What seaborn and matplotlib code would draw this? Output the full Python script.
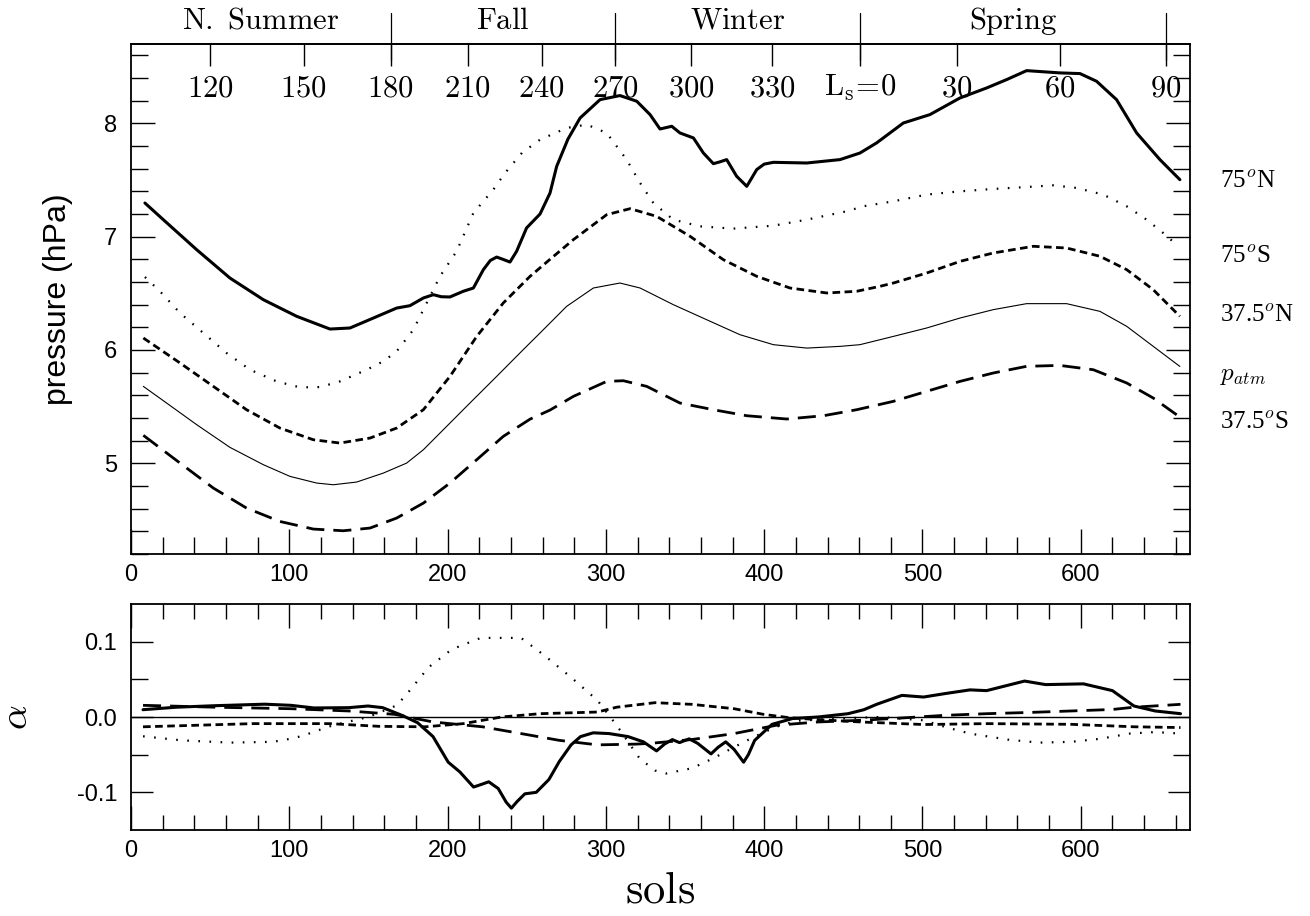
import numpy as np
import pandas as pd
import matplotlib
matplotlib.use("Agg")
import matplotlib.pyplot as plt
import matplotlib.transforms as mtransforms
import seaborn as sns

# ---------------- data ----------------
# top panel: surface pressure (hPa) vs sols
n75_sol = [8.8, 20.4, 41.5, 62.5, 83.6, 104.7, 125.7, 138.3, 153.1, 167.8, 176.2, 184.7, 191, 196, 201.5,
           209.9, 216.3, 222.6, 227, 231, 235, 239.4, 243.6, 249.9, 258.4, 264.7, 268.9, 276, 283.7, 296.3,
           308.9, 319.5, 327.9, 334.2, 341.6, 346.8, 355.3, 361.6, 367.9, 372, 376.3, 382.6, 389, 395.3,
           400, 405.8, 426.9, 447.9, 460.5, 471, 487.9, 504.7, 523.7, 540.5, 553.2, 565.8, 586.8, 599.5,
           610, 622.6, 635.3, 650, 662.6]
n75_p = [7.297, 7.15, 6.885, 6.635, 6.444, 6.297, 6.185, 6.194, 6.282, 6.37, 6.391, 6.459, 6.488, 6.47,
         6.468, 6.518, 6.547, 6.709, 6.79, 6.82, 6.80, 6.776, 6.871, 7.077, 7.20, 7.385, 7.62, 7.86, 8.047,
         8.209, 8.245, 8.195, 8.077, 7.95, 7.974, 7.915, 7.871, 7.738, 7.644, 7.66, 7.68, 7.533, 7.444,
         7.592, 7.64, 7.656, 7.65, 7.68, 7.738, 7.827, 8.003, 8.077, 8.224, 8.312, 8.386, 8.465, 8.445,
         8.439, 8.371, 8.209, 7.915, 7.68, 7.503]

s75_sol = [8.8, 18.3, 31, 45.7, 60.4, 75.2, 92, 106.8, 119.4, 132, 148.9, 159.4, 167.8, 178.4, 186.8,
           195.2, 205.7, 216.3, 228.9, 236.3, 247, 258.4, 275.2, 287.9, 300.5, 313.1, 321.6, 330, 342.6,
           359.5, 380.5, 405.8, 426.9, 452.1, 462.6, 481.6, 502.6, 523.7, 544.7, 565.8, 582.6, 597.4,
           614.2, 629, 641.6, 652.1, 660.5]
s75_p = [6.644, 6.518, 6.326, 6.15, 5.973, 5.826, 5.723, 5.67, 5.673, 5.723, 5.826, 5.90, 5.988, 6.179,
         6.415, 6.65, 6.871, 7.209, 7.415, 7.562, 7.74, 7.856, 7.959, 7.989, 7.915, 7.68, 7.474, 7.297,
         7.15, 7.091, 7.071, 7.097, 7.15, 7.224, 7.268, 7.312, 7.371, 7.40, 7.421, 7.438, 7.453, 7.43,
         7.371, 7.268, 7.15, 7.032, 6.929]

n37_sol = [7.8, 31, 52, 73, 94.1, 115.2, 132, 151, 167.8, 184.7, 201.5, 218.4, 235.2, 252.1, 264.7,
           279.5, 300.5, 315.3, 332.1, 353.2, 374.2, 395.3, 416.3, 439.5, 458.4, 473.2, 481.6, 502.6,
           523.7, 544.7, 570, 591, 612.1, 629, 645.8, 662.6]
n37_p = [6.106, 5.885, 5.679, 5.473, 5.311, 5.208, 5.179, 5.223, 5.311, 5.473, 5.767, 6.12, 6.415, 6.65,
         6.80, 6.974, 7.194, 7.247, 7.179, 7.003, 6.797, 6.65, 6.547, 6.503, 6.518, 6.562, 6.591, 6.679,
         6.782, 6.856, 6.915, 6.90, 6.827, 6.709, 6.532, 6.297]

patm_sol = [7.8, 20.4, 41.5, 62.5, 83.6, 100.4, 117.3, 127.8, 142.6, 159.4, 174.1, 184.7, 199.4, 214.1,
            231, 247.8, 258.4, 275.2, 292.1, 308.9, 321.6, 342.6, 363.7, 384.7, 405.8, 426.9, 447.9,
            460.5, 481.6, 502.6, 523.7, 544.7, 565.8, 591, 612.1, 629, 645.8, 662.6]
patm_p = [5.679, 5.553, 5.341, 5.141, 4.988, 4.885, 4.826, 4.811, 4.835, 4.914, 5.002, 5.12, 5.326, 5.532,
          5.767, 6.003, 6.15, 6.385, 6.547, 6.591, 6.547, 6.40, 6.267, 6.135, 6.047, 6.017, 6.032, 6.047,
          6.12, 6.194, 6.282, 6.356, 6.409, 6.409, 6.341, 6.209, 6.032, 5.855]

s37_sol = [7.8, 31, 52, 73, 94.1, 115.2, 134.1, 151, 167.8, 184.7, 201.5, 218.4, 235.2, 252.1, 264.7,
           279.5, 300.5, 311, 325.8, 346.8, 367.9, 389, 414.2, 437.4, 458.4, 481.6, 502.6, 523.7, 544.7,
           565.8, 586.8, 607.9, 629, 645.8, 662.6]
s37_p = [5.247, 5.002, 4.782, 4.605, 4.487, 4.42, 4.405, 4.429, 4.517, 4.649, 4.826, 5.032, 5.238, 5.39,
         5.47, 5.591, 5.723, 5.729, 5.679, 5.532, 5.473, 5.42, 5.391, 5.42, 5.473, 5.547, 5.635, 5.723,
         5.797, 5.856, 5.864, 5.826, 5.709, 5.576, 5.408]

# bottom panel: alpha vs sols
a_n75_sol = [7.6, 28.7, 53, 84.4, 101, 115.6, 137.6, 149.7, 159, 171.4, 181, 190.8, 200.4, 207.8, 216.4,
             222, 226, 232, 237, 240.3, 244, 248.8, 256, 264, 270.6, 278, 284, 292, 302, 314, 323.7, 332,
             337, 342, 346.5, 352.6, 358, 366.4, 371, 375.7, 381, 387, 390, 394, 405, 418, 434, 453, 463,
             471, 487, 500.7, 514, 530, 540.5, 564.5, 577.8, 601.7, 620, 633.6, 647, 663]
a_n75 = [0.0097, 0.013, 0.015, 0.017, 0.0155, 0.012, 0.0124, 0.0146, 0.0124, 0.002, -0.0075, -0.026,
         -0.060, -0.073, -0.093, -0.089, -0.086, -0.095, -0.113, -0.121, -0.112, -0.102, -0.100, -0.083,
         -0.059, -0.037, -0.026, -0.021, -0.022, -0.026, -0.033, -0.045, -0.036, -0.030, -0.034, -0.029,
         -0.035, -0.049, -0.040, -0.033, -0.043, -0.060, -0.050, -0.031, -0.0097, -0.002, 0.0, 0.0044,
         0.0097, 0.0168, 0.0287, 0.0265, 0.031, 0.036, 0.035, 0.0477, 0.043, 0.044, 0.035, 0.0146, 0.008,
         0.0044]

a_s75_sol = [7.6, 32, 62.5, 89, 96, 108.6, 115, 127.6, 150, 168, 176, 188, 202.8, 221, 246.4, 261, 277.8,
             294.7, 306.8, 321.3, 331, 338, 354.4, 367.7, 381, 394, 407.5, 420.7, 447, 473.8, 500.7, 514,
             530, 553.8, 573.6, 593.8, 612, 631, 647, 663]
a_s75 = [-0.0256, -0.031, -0.034, -0.033, -0.031, -0.025, -0.020, -0.011, 0.0, 0.0155, 0.035, 0.066,
         0.090, 0.105, 0.105, 0.082, 0.053, 0.022, -0.011, -0.055, -0.071, -0.075, -0.068, -0.055, -0.040,
         -0.026, -0.013, -0.005, -0.002, 0.0, -0.0044, -0.013, -0.022, -0.030, -0.034, -0.033, -0.029,
         -0.022, -0.020, -0.022]

a_n37_sol = [7.6, 41, 77, 125.5, 156.7, 185.7, 210, 234, 258.4, 294.7, 306.8, 331, 354.4, 381, 399.6,
             415.7, 434, 460.8, 500.7, 540.5, 593.8, 633.6, 663]
a_n37 = [-0.013, -0.011, -0.0088, -0.0088, -0.0124, -0.013, -0.0088, 0.0, 0.0044, 0.0066, 0.013, 0.019,
         0.0168, 0.011, 0.0035, -0.0009, -0.0035, -0.0066, -0.010, -0.0088, -0.0097, -0.013, -0.014]

a_s37_sol = [7.6, 53, 101, 137.6, 166.6, 190.8, 222, 246.4, 270.6, 294.7, 318.9, 328, 354, 381, 407.5,
             434, 460.8, 487, 514, 540.5, 567, 593.8, 620, 633.6, 663]
a_s37 = [0.0155, 0.013, 0.011, 0.008, 0.0035, -0.0066, -0.013, -0.022, -0.031, -0.037, -0.036, -0.035,
         -0.030, -0.022, -0.011, -0.0066, -0.0044, -0.0013, 0.0022, 0.0044, 0.006, 0.008, 0.010, 0.013,
         0.0168]

# Ls (areocentric longitude) tick positions in sols, and labels
ls_sols = [50, 109, 164, 212.6, 259.5, 305.7, 353.9, 405, 460.8, 521.7, 586.6, 653.6]
ls_labels = ["120", "150", "180", "210", "240", "270", "300", "330", r"L_s\!=\!0", "30", "60", "90"]
season_bounds = [164, 305.7, 460.8, 653.6]
season_names = ["N. Summer", "Fall", "Winter", "Spring"]
season_centers = [82, 235, 383, 557]

curve_labels = ["75$^o$N", "75$^o$S", "37.5$^o$N", "$p_{atm}$", "37.5$^o$S"]
curve_label_y = [7.485, 6.82, 6.30, 5.77, 5.36]

# ---------------- styling ----------------
sns.set_theme(style="ticks")
plt.rcParams["font.family"] = ["Liberation Sans", "DejaVu Sans"]
plt.rcParams["mathtext.fontset"] = "cm"
plt.rcParams["lines.scale_dashes"] = False
plt.rcParams["axes.linewidth"] = 1.3
for k in ["xtick.color", "ytick.color", "text.color", "axes.labelcolor", "axes.edgecolor",
          "xtick.labelcolor", "ytick.labelcolor"]:
    plt.rcParams[k] = "black"

W, H = 1310, 916
fig = plt.figure(figsize=(W / 100, H / 100), dpi=100)
ax1 = fig.add_axes([131 / W, 1 - 554 / H, 1059 / W, 510 / H])
ax2 = fig.add_axes([131 / W, 1 - 830 / H, 1059 / W, 226 / H])

thick = dict(color="black", linewidth=2.2, linestyle="-")
dotted = dict(color="black", linewidth=1.6, linestyle=(0, (1.2, 6.8)))
shortd = dict(color="black", linewidth=2.0, linestyle=(0, (5.5, 3.2)))
thin = dict(color="black", linewidth=0.8, linestyle="-")
longd = dict(color="black", linewidth=2.0, linestyle=(0, (13, 6.5)))

for xs, ys, st in [(n75_sol, n75_p, thick), (s75_sol, s75_p, dotted), (n37_sol, n37_p, shortd),
                   (patm_sol, patm_p, thin), (s37_sol, s37_p, longd)]:
    sns.lineplot(x=np.array(xs), y=np.array(ys), ax=ax1, estimator=None, sort=False, **st)

ax2.axhline(0, color="black", linewidth=1.0)
for xs, ys, st in [(a_n75_sol, a_n75, thick), (a_s75_sol, a_s75, dotted), (a_n37_sol, a_n37, shortd),
                   (a_s37_sol, a_s37, longd)]:
    sns.lineplot(x=np.array(xs), y=np.array(ys), ax=ax2, estimator=None, sort=False, **st)

# ---- axes 1 ----
ax1.set_xlim(0, 669)
ax1.set_ylim(4.2, 8.7)
ax1.set_xticks(np.arange(0, 669, 100))
ax1.set_xticks(np.arange(0, 669, 20), minor=True)
ax1.set_yticks([5, 6, 7, 8])
ax1.set_yticks(np.arange(4.2, 8.71, 0.2), minor=True)
ax1.tick_params(axis="x", which="both", direction="in", top=False, bottom=True, labelsize=17, pad=7,
                width=1)
ax1.tick_params(axis="x", which="major", length=18)
ax1.tick_params(axis="x", which="minor", length=12)
ax1.tick_params(axis="y", which="both", direction="in", left=True, right=True, labelsize=17, pad=10,
                width=1)
ax1.tick_params(axis="y", which="major", length=17)
ax1.tick_params(axis="y", which="minor", length=12)
ax1.set_xlabel("")
ax1.set_ylabel("pressure (hPa)", fontsize=23, labelpad=22)

sec = ax1.secondary_xaxis("top")
sec.set_xticks(ls_sols)
sec.set_xticklabels([])
sec.tick_params(axis="x", direction="in", length=16, width=1)

trans1 = mtransforms.blended_transform_factory(ax1.transData, ax1.transAxes)
for x, lab in zip(ls_sols, ls_labels):
    ax1.text(x, 0.9137, r"$\mathrm{" + lab + "}$", transform=trans1, ha="center", va="center",
             fontsize=22)
for x in season_bounds:
    ax1.plot([x, x], [0.9686, 1.0608], transform=trans1, color="black", linewidth=0.9, clip_on=False)
for x, lab in zip(season_centers, season_names):
    ax1.text(x, 1.0457, r"$\mathrm{" + lab.replace(" ", r"\ ") + "}$", transform=trans1, ha="center",
             va="center", fontsize=22)
for y, lab in zip(curve_label_y, curve_labels):
    ax1.text(688, y, lab, ha="left", va="center", fontsize=18, family="Liberation Serif", clip_on=False)

# ---- axes 2 ----
ax2.set_xlim(0, 669)
ax2.set_ylim(-0.15, 0.15)
ax2.set_xticks(np.arange(0, 669, 100))
ax2.set_xticks(np.arange(0, 669, 20), minor=True)
ax2.set_yticks([-0.1, 0.0, 0.1])
ax2.set_yticklabels(["-0.1", "0.0", "0.1"])
ax2.set_yticks([-0.05, 0.05], minor=True)
ax2.tick_params(axis="x", which="both", direction="in", top=True, bottom=True, labelsize=17, pad=7,
                width=1)
ax2.tick_params(axis="x", which="major", length=17)
ax2.tick_params(axis="x", which="minor", length=11)
ax2.tick_params(axis="y", which="both", direction="in", left=True, right=True, labelsize=17, pad=10,
                width=1)
ax2.tick_params(axis="y", which="major", length=16)
ax2.tick_params(axis="y", which="minor", length=12)
ax2.set_xlabel(r"$\mathrm{sols}$", fontsize=32, labelpad=6)
ax2.set_ylabel(r"$\alpha$", fontsize=28, labelpad=30)

for ax in (ax1, ax2):
    for s in ax.spines.values():
        s.set_color("black")
        s.set_linewidth(1.3)

fig.savefig("out.png", dpi=100)
